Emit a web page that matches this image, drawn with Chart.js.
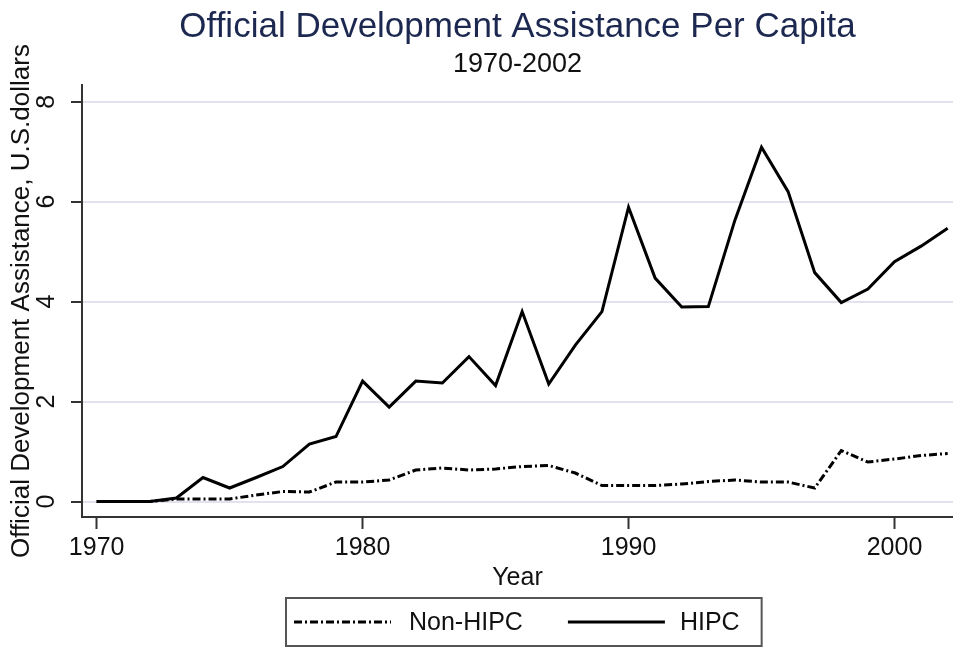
<!DOCTYPE html>
<html>
<head>
<meta charset="utf-8">
<title>Official Development Assistance Per Capita</title>
<script src="https://cdn.jsdelivr.net/npm/chart.js@4/dist/chart.umd.min.js"></script>
<style>
  html, body { margin: 0; padding: 0; background: #ffffff; }
  #wrap { width: 953px; height: 648px; }
</style>
</head>
<body>
<div id="wrap"><canvas id="chart" width="953" height="648"></canvas></div>
<script>
// Per-capita ODA, U.S. dollars, 1970-2002
const years = [1970, 1971, 1972, 1973, 1974, 1975, 1976, 1977, 1978, 1979,
               1980, 1981, 1982, 1983, 1984, 1985, 1986, 1987, 1988, 1989,
               1990, 1991, 1992, 1993, 1994, 1995, 1996, 1997, 1998, 1999,
               2000, 2001, 2002];
const nonHipc = [0, 0, 0, 0.05, 0.05, 0.05, 0.13, 0.20, 0.19, 0.39,
                 0.39, 0.43, 0.63, 0.67, 0.63, 0.65, 0.70, 0.72, 0.57, 0.32,
                 0.32, 0.32, 0.35, 0.40, 0.43, 0.39, 0.39, 0.27, 1.02, 0.79,
                 0.85, 0.92, 0.96];
const hipc = [0, 0, 0, 0.07, 0.48, 0.27, 0.48, 0.70, 1.15, 1.30,
              2.41, 1.89, 2.41, 2.37, 2.90, 2.32, 3.80, 2.35, 3.13, 3.80,
              5.89, 4.47, 3.89, 3.90, 5.63, 7.09, 6.20, 4.58, 3.98, 4.25,
              4.80, 5.11, 5.47];
const seriesLabels = ['Non-HIPC', 'HIPC'];
const yTickValues = [0, 2, 4, 6, 8];
const xTickValues = [1970, 1980, 1990, 2000];

const FONT = '"Liberation Sans", Arial, Helvetica, sans-serif';
Chart.defaults.font.family = FONT;
Chart.defaults.color = '#111111';

const toPoints = (vals) => years.map((yr, i) => ({ x: yr, y: vals[i] }));

// Framed legend drawn under the x-axis title
const framedLegend = {
  id: 'framedLegend',
  afterDraw(chart) {
    const { ctx, chartArea } = chart;
    const sets = chart.data.datasets;
    const fontPx = 25;
    const lineLen = 97;
    ctx.save();
    ctx.font = fontPx + 'px ' + FONT;
    const w0 = ctx.measureText(sets[0].label).width;
    const w1 = ctx.measureText(sets[1].label).width;
    const padL = 8, gapText = 18, gapItem = 45, gapText2 = 15, padR = 22;
    const boxW = padL + lineLen + gapText + w0 + gapItem + lineLen + gapText2 + w1 + padR;
    const boxH = 48;
    const cx = (chartArea.left + chartArea.right) / 2 + 6;
    const left = Math.round(cx - boxW / 2);
    const top = chart.scales.x.bottom + 2;
    const midY = top + boxH / 2;

    ctx.strokeStyle = '#555555';
    ctx.lineWidth = 2;
    ctx.strokeRect(left, top, boxW, boxH);

    let x = left + padL;
    const drawItem = (ds, gap, textW) => {
      ctx.save();
      ctx.strokeStyle = ds.borderColor;
      ctx.lineWidth = ds.borderWidth;
      ctx.setLineDash(ds.borderDash || []);
      ctx.beginPath();
      ctx.moveTo(x, midY);
      ctx.lineTo(x + lineLen, midY);
      ctx.stroke();
      ctx.restore();
      x += lineLen + gap;
      ctx.fillStyle = '#111111';
      ctx.textBaseline = 'middle';
      ctx.textAlign = 'left';
      ctx.fillText(ds.label, x, midY + 1);
      x += textW;
    };
    drawItem(sets[0], gapText, w0);
    x += gapItem;
    drawItem(sets[1], gapText2, w1);
    ctx.restore();
  }
};

new Chart(document.getElementById('chart'), {
  type: 'line',
  data: {
    datasets: [
      {
        label: seriesLabels[0],
        data: toPoints(nonHipc),
        borderColor: '#000000',
        borderWidth: 3,
        borderDash: [8, 3, 2, 3],
        pointRadius: 0,
        tension: 0,
        fill: false
      },
      {
        label: seriesLabels[1],
        data: toPoints(hipc),
        borderColor: '#000000',
        borderWidth: 3,
        pointRadius: 0,
        tension: 0,
        fill: false
      }
    ]
  },
  options: {
    responsive: false,
    animation: false,
    devicePixelRatio: 1,
    layout: { padding: { left: 6, right: 0, top: 0, bottom: 52 } },
    plugins: {
      legend: { display: false },
      tooltip: { enabled: false },
      title: {
        display: true,
        fullSize: false,
        text: 'Official Development Assistance Per Capita',
        color: '#1c2850',
        font: { size: 35, weight: 'normal', family: FONT },
        padding: { top: 6, bottom: 0.5 }
      },
      subtitle: {
        display: true,
        fullSize: false,
        text: '1970-2002',
        color: '#111111',
        font: { size: 27, weight: 'normal', family: FONT },
        padding: { top: 0, bottom: 4.3 }
      }
    },
    scales: {
      x: {
        type: 'linear',
        min: 1969.45,
        max: 2002.2,
        afterBuildTicks: (scale) => { scale.ticks = xTickValues.map(v => ({ value: v })); },
        afterFit: (scale) => { scale.height = 79; },
        grid: {
          drawOnChartArea: false,
          drawTicks: true,
          tickLength: 12,
          tickWidth: 2,
          tickColor: '#333333'
        },
        border: { display: true, color: '#333333', width: 2 },
        ticks: {
          autoSkip: false,
          maxRotation: 0,
          minRotation: 0,
          padding: 4,
          color: '#111111',
          font: { size: 25 },
          callback: (v) => String(v)
        },
        title: {
          display: true,
          text: 'Year',
          color: '#111111',
          font: { size: 25 },
          padding: { top: 0, bottom: 3 }
        }
      },
      y: {
        type: 'linear',
        min: -0.31,
        max: 8.33,
        afterBuildTicks: (scale) => { scale.ticks = yTickValues.map(v => ({ value: v })); },
        afterFit: (scale) => { scale.width = 76; },
        grid: {
          color: '#e2e2ee',
          lineWidth: 2,
          drawTicks: true,
          tickLength: 11,
          tickWidth: 2,
          tickColor: '#333333'
        },
        border: { display: true, color: '#333333', width: 2 },
        ticks: {
          minRotation: 90,
          maxRotation: 90,
          crossAlign: 'center',
          padding: 17,
          color: '#111111',
          font: { size: 25 }
        },
        title: {
          display: true,
          text: 'Official Development Assistance, U.S.dollars',
          color: '#111111',
          font: { size: 26 },
          padding: { top: 0, bottom: 4 }
        }
      }
    }
  },
  plugins: [framedLegend]
});
</script>
</body>
</html>
